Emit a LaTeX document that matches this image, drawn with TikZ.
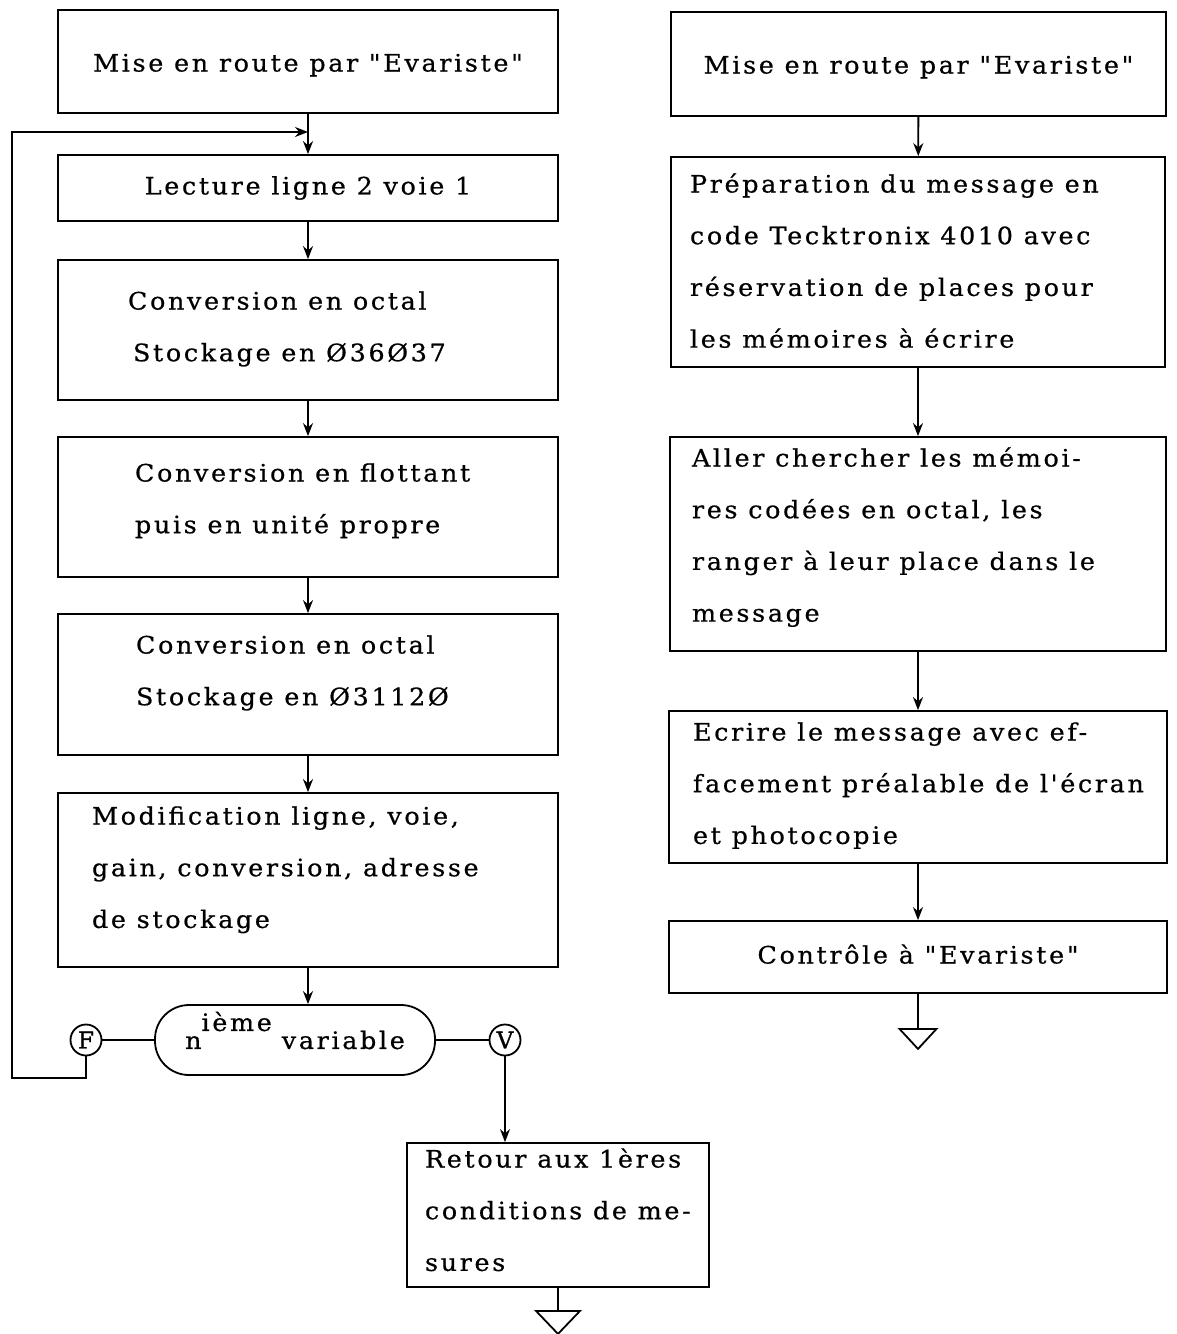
\documentclass[tikz,border=0pt]{standalone}
\usepackage{fontspec}
\font\tw="DejaVu Serif:letterspace=11;extend=1.06;embolden=0.6" at 24pt
\font\twc="DejaVu Serif:embolden=1.2" at 23pt
\newcommand\Ln[1]{\mbox{\spaceskip=0pt\relax\xspaceskip=0pt\relax#1}}
\usetikzlibrary{arrows.meta}
\begin{document}
\begin{tikzpicture}[x=1pt,y=-1pt,
  every node/.style={font={\tw\baselineskip=51.7pt\relax}},
  box/.style={draw, line width=1.8pt, inner sep=0pt, align=left},
  vpos/.style={text height=30pt, text depth=#1},
  termbox/.style={draw, line width=1.8pt, inner sep=0pt, rounded corners=34pt},
  conn/.style={draw, circle, line width=1.8pt, inner sep=0pt, minimum size=31pt, font=\twc},
  link/.style={line width=1.8pt},
  arr/.style={line width=1.8pt, -{Stealth[length=13pt,width=10pt]}}]
\useasboundingbox (0,0) rectangle (1177,1334);
% left column
\node[box, vpos=10pt, minimum width=500pt, minimum height=103pt] (b1) at (308,61.5) {Mise en route par "Evariste"};
\node[box, minimum width=500pt, minimum height=66pt] (b2) at (308,188) {Lecture ligne 2 voie 1};
\node[box, vpos=71pt, minimum width=500pt, minimum height=140pt, text width=360pt] (b3) at (308,330) {\Ln{Conversion en octal}\\\Ln{\hspace{5pt}Stockage en Ø36Ø37}};
\node[box, vpos=81pt, minimum width=500pt, minimum height=140pt, text width=346pt] (b4) at (308,507) {\Ln{Conversion en flottant}\\\Ln{puis en unité propre}};
\node[box, vpos=92pt, minimum width=500pt, minimum height=141pt, text width=344pt] (b5) at (308,684.5) {\Ln{Conversion en octal}\\\Ln{Stockage en Ø3112Ø}};
\node[box, vpos=141pt, minimum width=500pt, minimum height=174pt, text width=432pt] (b6) at (308,880) {\Ln{Modification ligne, voie,}\\\Ln{gain, conversion, adresse}\\\Ln{de stockage}};
\node[termbox, minimum width=280pt, minimum height=70pt] (term) at (295,1040) {n\smash{\raisebox{18pt}{ième}}\hspace{10pt}variable};
\node[conn] (F) at (86,1040) {F};
\node[conn] (V) at (505,1040) {V};
\node[box, text height=10pt, text depth=105pt, minimum width=302pt, minimum height=144pt, text width=266pt] (b7) at (558,1215) {\Ln{Retour aux 1ères}\\\Ln{conditions de me-}\\\Ln{sures}};
% right column
\node[box, vpos=11pt, minimum width=495pt, minimum height=104pt] (r1) at (918.5,64) {Mise en route par "Evariste"};
\node[box, vpos=169pt, minimum width=494pt, minimum height=210pt, text width=456pt] (r2) at (918,262) {\Ln{Préparation du message en}\\\Ln{code Tecktronix 4010 avec}\\\Ln{réservation de places pour}\\\Ln{les mémoires à écrire}};
\node[box, text height=20pt, text depth=175pt, minimum width=496pt, minimum height=214pt, text width=452pt] (r3) at (918,544) {\Ln{Aller chercher les mémoi-}\\\Ln{res codées en octal, les}\\\Ln{ranger à leur place dans le}\\\Ln{message}};
\node[box, text height=10pt, text depth=103pt, minimum width=498pt, minimum height=152pt, text width=450pt] (r4) at (918,787) {\Ln{Ecrire le message avec ef-}\\\Ln{facement préalable de l'écran}\\\Ln{et photocopie}};
\node[box, vpos=17pt, minimum width=498pt, minimum height=72pt] (r5) at (918,957) {Contrôle à "Evariste"};
% connectors left
\draw[arr] (b1) -- (b2);
\draw[arr] (b2) -- (b3);
\draw[arr] (b3) -- (b4);
\draw[arr] (b4) -- (b5);
\draw[arr] (b5) -- (b6);
\draw[arr] (b6.south) -- (b6.south |- term.north);
\draw[link] (F) -- (term);
\draw[link] (term) -- (V);
\draw[arr] (V) -- (V |- b7.north);
\coordinate (lb) at (12,1078);
\coordinate (lt) at (12,132);
\coordinate (jn) at (308,132);
\draw[arr] (F.south) |- (lb) -- (lt) -- (jn);
\draw[link] (b7.south) -- ++(0,23) coordinate (tA);
\draw[link] (tA) ++(-22,0) -- ++(44,0) -- ++(-22,23) -- cycle;
% connectors right
\draw[arr] (r1) -- (r2);
\draw[arr] (r2) -- (r3);
\draw[arr] (r3) -- (r4);
\draw[arr] (r4) -- (r5);
\draw[link] (r5.south) -- ++(0,35) coordinate (tB);
\draw[link] (tB) ++(-18.5,0) -- ++(37,0) -- ++(-18.5,20) -- cycle;
\end{tikzpicture}
\end{document}
